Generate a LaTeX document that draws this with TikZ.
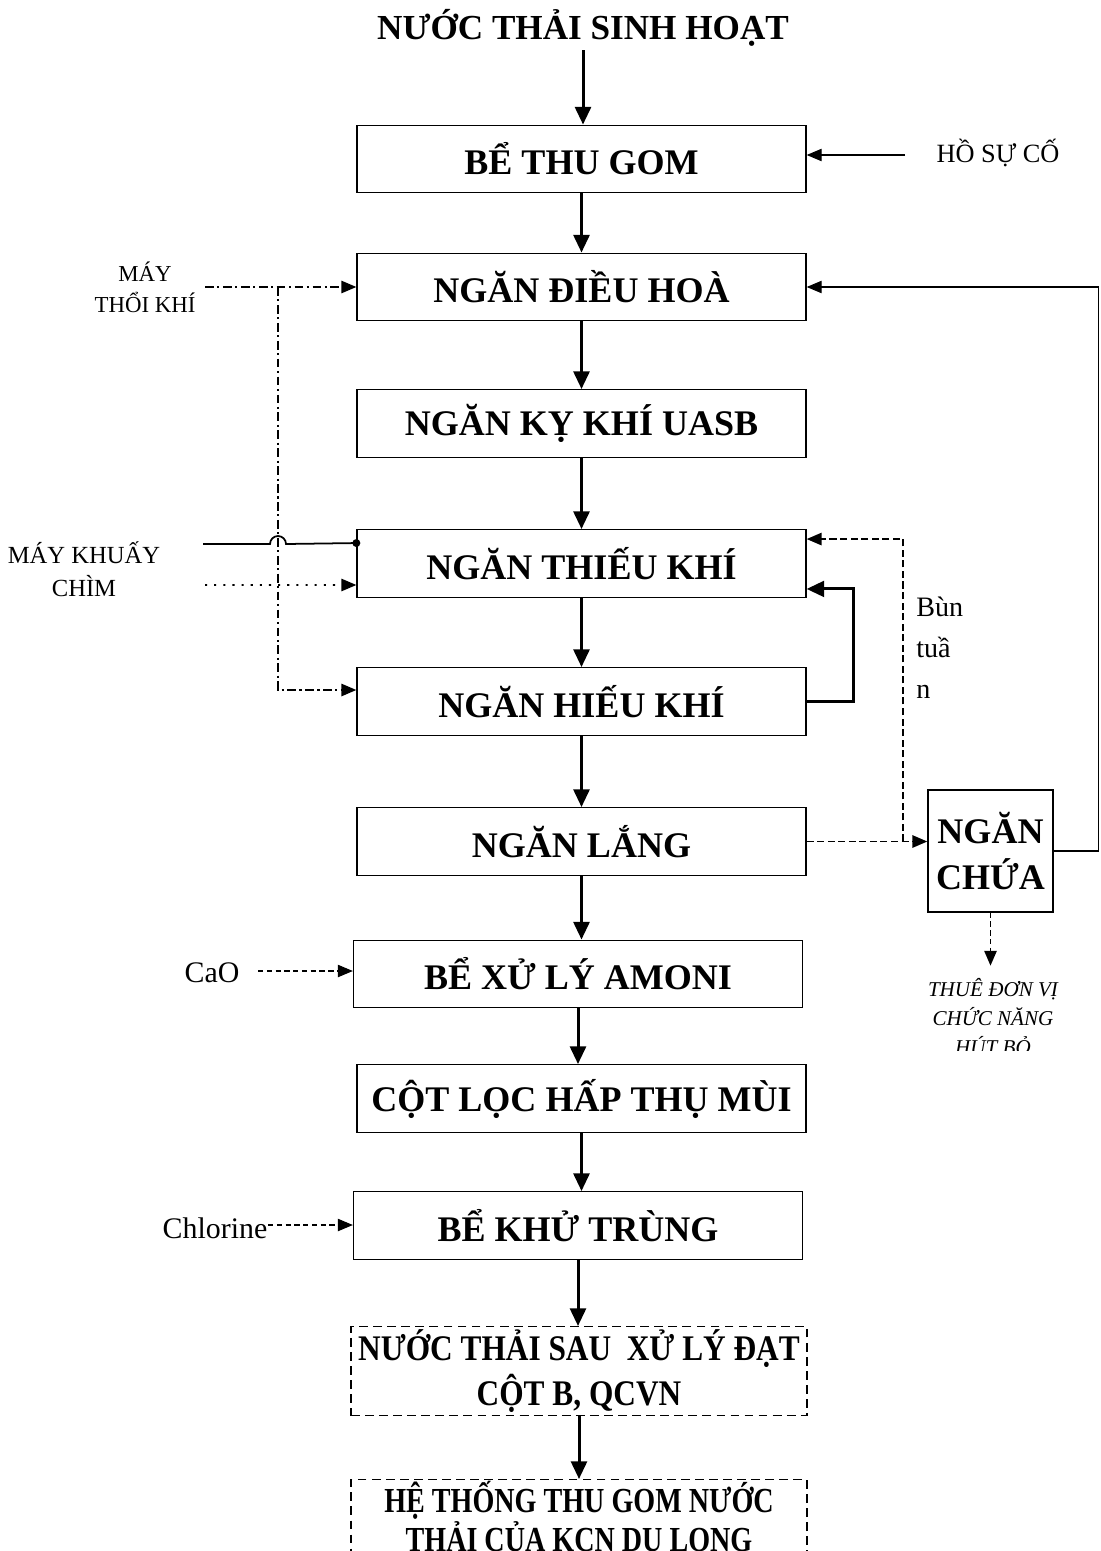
\documentclass[tikz,border=0pt]{standalone}
\usepackage{fontspec}
\setmainfont{Liberation Serif}
\usetikzlibrary{arrows.meta}

\begin{document}
\begin{tikzpicture}[x=0.02cm,y=-0.02cm,
  box/.style={draw,line width=0.8pt,minimum width=8.98cm,minimum height=1.35cm,inner sep=0pt,align=center,font=\bfseries\fontsize{20.5}{26}\selectfont},
  dbox/.style={box,dash pattern=on 5pt off 3pt,minimum width=9.12cm,anchor=north},
  flow/.style={line width=1.7pt,-{Triangle[length=10pt,width=9pt]}},
  side/.style={line width=0.6pt,-{Triangle[length=8.5pt,width=7pt]}},
  blow/.style={side,line width=1pt,dash pattern=on 5pt off 2pt on 1.2pt off 2pt},
  lbl/.style={align=center,inner sep=0pt}]
  \useasboundingbox (0,0) rectangle (1100,1551);
  % main line
  \node[font=\bfseries\fontsize{20}{24}\selectfont,inner sep=2pt] (title) at (583,28) {NƯỚC THẢI SINH HOẠT};
  \node[box] (thugom) at (581.5,159) {BỂ THU GOM};
  \node[box] (dieuhoa) at (581.5,287) {NGĂN ĐIỀU HOÀ};
  \node[box] (kykhi) at (581.5,423.5) {NGĂN KỴ KHÍ UASB};
  \node[box] (thieukhi) at (581.5,563.5) {NGĂN THIẾU KHÍ};
  \node[box] (hieukhi) at (581.5,701.5) {NGĂN HIẾU KHÍ};
  \node[box] (lang) at (581.5,841.5) {NGĂN LẮNG};
  \node[box] (amoni) at (578,974) {BỂ XỬ LÝ AMONI};
  \node[box] (locmui) at (581.5,1098.5) {CỘT LỌC HẤP THỤ MÙI};
  \node[box] (khutrung) at (578,1225.5) {BỂ KHỬ TRÙNG};
  \node[dbox,minimum height=1.78cm,font=\bfseries\fontsize{20.5}{26}\selectfont\addfontfeature{FakeStretch=0.87}] (sauxuly) at (579,1326) {NƯỚC THẢI SAU\ \ XỬ LÝ ĐẠT\\CỘT B, QCVN};
  \node[dbox,inner ysep=1pt,text depth=16pt,font=\bfseries\fontsize{20}{18.5}\selectfont\addfontfeature{FakeStretch=0.8}] (htgom) at (579,1479) {HỆ THỐNG THU GOM NƯỚC\\THẢI CỦA KCN DU LONG};
  \node[box,minimum width=2.5cm,minimum height=2.44cm] (nganchua) at (990.5,851) {NGĂN\\CHỨA};
  \draw[flow] (title) -- (title |- thugom.north);
  \foreach \a/\b in {thugom/dieuhoa,dieuhoa/kykhi,kykhi/thieukhi,thieukhi/hieukhi,hieukhi/lang,lang/amoni,amoni/locmui,locmui/khutrung,khutrung/sauxuly,sauxuly/htgom}
    \draw[flow] (\a) -- (\a |- \b.north);
  % inputs
  \node[lbl,font=\fontsize{15}{17}\selectfont] (hosuco) at (998,153) {HỒ SỰ CỐ};
  \coordinate (hoA) at (905,155);
  \draw[side] (hoA) -- (thugom.east |- hoA);
  \node[lbl,font=\fontsize{13}{17.6}\selectfont] (maythoi) at (145,287) {MÁY\\THỔI KHÍ};
  \coordinate (thoiA) at (205,287);
  \coordinate (thoiB) at (278,287);
  \draw[blow] (thoiA) -- (dieuhoa.west);
  \draw[blow] (thoiB) |- ([yshift=0.23cm]hieukhi.west);
  \node[lbl,font=\fontsize{14}{19}\selectfont] (maykhuay) at (84,569) {MÁY KHUẤY\\CHÌM};
  \coordinate (khuayA) at (203,544);
  \coordinate (khuayB) at (205,585);
  \draw[line width=1pt] (khuayA) -- (270,544) arc[start angle=180,end angle=0,radius=0.16cm] -- ([yshift=-0.28cm]thieukhi.north west);
  \fill ([yshift=-0.28cm]thieukhi.north west) circle (0.08cm);
  \draw[side,line width=0.9pt,dash pattern=on 1.2pt off 4pt] (khuayB) -- ([yshift=-0.43cm]thieukhi.west);
  \node[lbl,font=\fontsize{17}{20}\selectfont] (cao) at (212,973) {CaO};
  \coordinate (caoA) at (258,971);
  \draw[side,dash pattern=on 3pt off 2pt] (caoA) -- (amoni.west |- caoA);
  \node[lbl,font=\fontsize{17}{20}\selectfont] (chlorine) at (215,1228) {Chlorine};
  \coordinate (chlA) at (268,1225);
  \draw[side,dash pattern=on 3pt off 2pt] (chlA) -- (khutrung.west |- chlA);
  % returns
  \draw[flow] (hieukhi.east) -- ++(47,0) |- ([yshift=0.18cm]thieukhi.south east);
  \draw[side,line width=1.1pt,dash pattern=on 4pt off 2pt] (lang.east) -- (nganchua.west |- lang.east);
  \coordinate (bunA) at (903,841.5);
  \draw[side,line width=1.1pt,dash pattern=on 4pt off 2pt] (bunA) |- ([yshift=-0.2cm]thieukhi.north east);
  \node[lbl,font=\fontsize{16}{23.2}\selectfont,align=left,anchor=north west] (bun) at (916,597) {Bùn\\tuầ\\n};
  \draw[side] (nganchua.east) -- ++(45,0) |- (dieuhoa.east);
  \draw[side,line width=1.1pt,dash pattern=on 3pt off 2pt] (nganchua.south) -- ++(0,53);
  \begin{scope}
    \clip (880,968) rectangle (1100,1050);
    \node[lbl,font=\itshape\fontsize{12}{16.4}\selectfont,anchor=north] (thue) at (993,978) {THUÊ ĐƠN VỊ\\CHỨC NĂNG\\HÚT BỎ};
  \end{scope}
\end{tikzpicture}
\end{document}
